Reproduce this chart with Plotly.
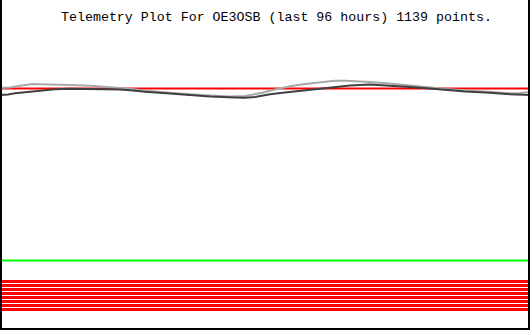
import plotly.graph_objects as go

# Time axis in hours (last 96 hours)
hours_light = [0, 1.81, 3.62, 5.43, 5.98, 7.25, 9.96, 12.68, 16.30, 18.11, 21.74, 23.55, 26.26,
               29.89, 33.51, 38.04, 41.66, 44.38, 46.19, 47.46, 49.81, 52.53, 55.25, 57.96,
               60.68, 62.49, 64.30, 67.02, 70.64, 74.26, 77.89, 80.60, 84.23, 88.75, 92.38,
               94.19, 96.0]
values_light = [24.20, 24.25, 24.42, 24.52, 24.60, 24.57, 24.57, 24.50, 24.42, 24.35, 24.25,
                24.12, 23.92, 23.75, 23.60, 23.45, 23.35, 23.40, 23.55, 23.72, 24.05, 24.37,
                24.60, 24.80, 24.93, 24.93, 24.90, 24.80, 24.65, 24.42, 24.25, 24.10, 23.95,
                23.80, 23.67, 23.70, 23.80]

hours_dark = [0, 1.45, 2.72, 4.53, 6.34, 8.15, 9.96, 12.68, 18.11, 21.74, 23.55, 26.26, 30.79,
              34.42, 38.04, 42.57, 44.38, 46.19, 47.46, 48.91, 51.62, 54.34, 57.06, 58.87,
              60.68, 63.40, 67.02, 69.74, 71.55, 74.26, 77.89, 80.60, 84.23, 88.75, 92.38, 96.0]
values_dark = [23.50, 23.55, 23.67, 23.77, 23.88, 23.98, 24.07, 24.12, 24.10, 24.05, 23.97,
               23.82, 23.65, 23.50, 23.35, 23.25, 23.22, 23.30, 23.44, 23.58, 23.75, 23.90,
               24.05, 24.18, 24.32, 24.45, 24.55, 24.48, 24.40, 24.30, 24.15, 24.00, 23.85,
               23.72, 23.57, 23.50]

# Horizontal reference levels
red_top_level = 24.15
green_level = 6.95
red_band_levels = [4.85, 4.45, 4.05, 3.65, 3.25, 2.85, 2.45, 2.05]

title_text = "Telemetry Plot For OE3OSB (last 96 hours) 1139 points."

fig = go.Figure()

fig.add_trace(go.Scatter(x=[0, 96], y=[red_top_level, red_top_level], mode="lines",
                         line=dict(color="#ff0000", width=2), hoverinfo="skip"))
fig.add_trace(go.Scatter(x=hours_light, y=values_light, mode="lines",
                         line=dict(color="#a8a8a8", width=2), hoverinfo="skip"))
fig.add_trace(go.Scatter(x=hours_dark, y=values_dark, mode="lines",
                         line=dict(color="#404040", width=2), hoverinfo="skip"))
fig.add_trace(go.Scatter(x=[0, 96], y=[green_level, green_level], mode="lines",
                         line=dict(color="#00ff00", width=2), hoverinfo="skip"))
for lv in red_band_levels:
    fig.add_trace(go.Scatter(x=[0, 96], y=[lv, lv], mode="lines",
                             line=dict(color="#ff0000", width=3), hoverinfo="skip"))

fig.add_annotation(text=title_text, xref="paper", yref="paper", x=0.521, y=0.948,
                   showarrow=False, xanchor="center", yanchor="middle",
                   font=dict(family="Liberation Mono", size=13.3, color="black"))

for s in [dict(x0=0, x1=0, y0=0, y1=1), dict(x0=1, x1=1, y0=0, y1=1), dict(x0=0, x1=1, y0=0, y1=0)]:
    fig.add_shape(type="line", xref="paper", yref="paper", line=dict(color="black", width=4), **s)

fig.update_layout(width=530, height=330, margin=dict(l=0, r=0, t=0, b=0),
                  paper_bgcolor="white", plot_bgcolor="white", showlegend=False)
fig.update_xaxes(range=[0, 96], visible=False, showgrid=False, zeroline=False)
fig.update_yaxes(range=[0, 33], visible=False, showgrid=False, zeroline=False)

fig.write_html("out.html", config={"displayModeBar": False})
